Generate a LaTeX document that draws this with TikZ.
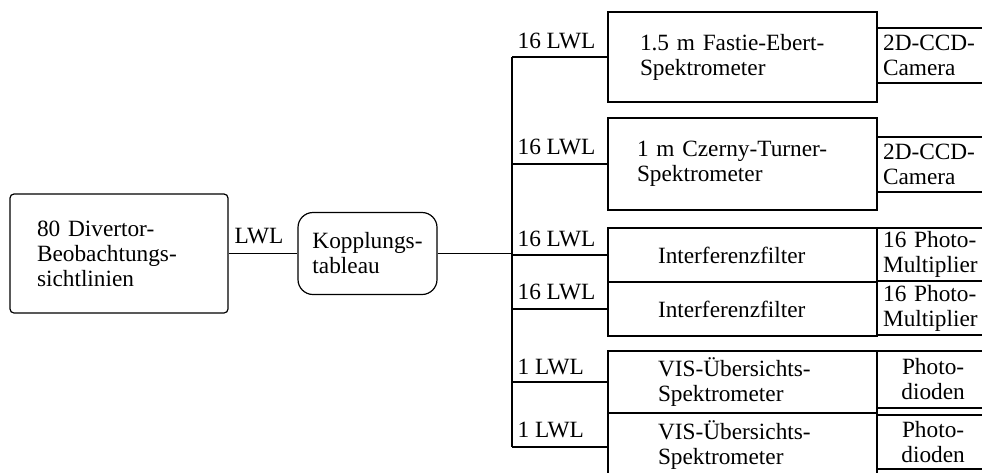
\documentclass[tikz,border=0pt]{standalone}
\usepackage{fontspec}
\setmainfont{Liberation Serif}
\usetikzlibrary{calc}

\begin{document}
\begin{tikzpicture}[x=1pt,y=-1pt,line width=1.2pt,
        font=\fontsize{23.3}{25}\selectfont,
        box/.style={draw, rectangle, inner sep=0pt},
        spec/.style={box, minimum width=269pt, align=left},
        det/.style={box, anchor=west, minimum width=111pt, text width=100pt, inner xsep=5pt},
        lbl/.style={inner sep=0pt, anchor=base west}]
        \useasboundingbox (0,0) rectangle (982,472);
        \clip (0,0) rectangle (982,472);

        \node[box, rounded corners=4pt, minimum width=218pt, minimum height=119pt, text width=164pt, align=left] (div) at (119,253.5) {80 Divertor-\\Beobachtungs-\\sichtlinien};
        \node[box, rounded corners=15pt, minimum width=139pt, minimum height=82pt, align=left] (kop) at (367.5,253.5) {Kopplungs-\\tableau};
        \node[lbl, anchor=base] (lwl) at (259,243) {LWL};
        \coordinate (bus) at (512,0);

        \node[spec, minimum height=90pt, text width=205pt] (s1) at (742.5,57) {1.5 m Fastie-Ebert-\\Spektrometer};
        \node[spec, minimum height=92pt, text width=211pt] (s2) at (742.5,164) {1 m Czerny-Turner-\\Spektrometer};
        \node[spec, minimum height=54pt, text width=169pt] (s3) at (742.5,255) {Interferenzfilter};
        \node[spec, minimum height=54pt, text width=169pt] (s4) at (742.5,309) {Interferenzfilter};
        \node[spec, minimum height=62pt, text width=169pt] (s5) at (742.5,382) {VIS-Übersichts-\\Spektrometer};
        \node[spec, minimum height=64pt, text width=169pt] (s6) at (742.5,445) {VIS-Übersichts-\\Spektrometer};

        \node[det, minimum height=55pt, align=left] (d1) at (877,55.5) {2D-CCD-\\Camera};
        \node[det, minimum height=55pt, align=left] (d2) at (877,164.5) {2D-CCD-\\Camera};
        \node[det, minimum height=53pt, align=left] (d3) at (877,254.5) {16 Photo-\\Multiplier};
        \node[det, minimum height=54pt, align=left] (d4) at (877,308) {16 Photo-\\Multiplier};
        \node[det, minimum height=57pt, align=center] (d5) at (877,379.5) {Photo-\\dioden};
        \node[det, minimum height=54pt, align=center] (d6) at (877,442) {Photo-\\dioden};

        \draw (div.east) -- (kop.west);
        \draw (kop.east) -- (kop.east -| bus);
        \foreach \s in {s1,s2,s3,s4,s5}
            \draw (\s.west) -- (\s.west -| bus);
        \draw ([yshift=-2pt]s6.west) -- ([yshift=-2pt]s6.west -| bus);
        \draw (s1.west -| bus) -- ([yshift=-2pt]s6.west -| bus);

        \node[lbl] (l1) at ($(s1.west -| bus)+(5,-9)$) {16 LWL};
        \node[lbl] (l2) at ($(s2.west -| bus)+(5,-10)$) {16 LWL};
        \node[lbl] (l3) at ($(s3.west -| bus)+(5,-9)$) {16 LWL};
        \node[lbl] (l4) at ($(s4.west -| bus)+(5,-10)$) {16 LWL};
        \node[lbl] (l5) at ($(s5.west -| bus)+(5,-8)$) {1 LWL};
        \node[lbl] (l6) at ($([yshift=-2pt]s6.west -| bus)+(5,-10)$) {1 LWL};
    \end{tikzpicture}
\end{document}
